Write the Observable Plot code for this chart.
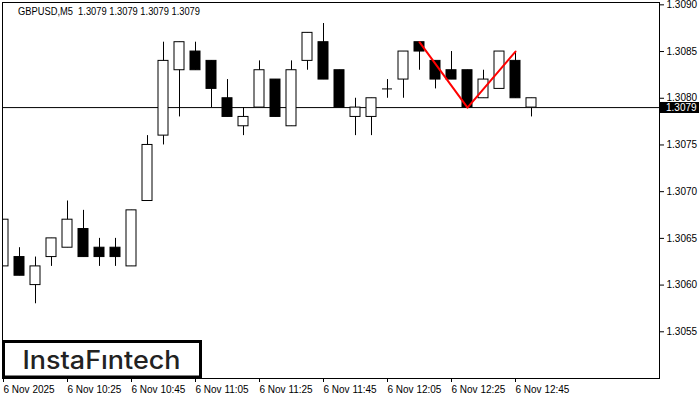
<!DOCTYPE html>
<html>
<head>
<meta charset="utf-8">
<script src="https://cdn.jsdelivr.net/npm/d3@7"></script>
<script src="https://cdn.jsdelivr.net/npm/@observablehq/plot@0.6"></script>
<style>
  html, body { margin: 0; padding: 0; background: #fff; }
  #chart { width: 700px; height: 400px; }
</style>
</head>
<body>
<div id="chart"></div>
<script>
// ---- data (M5 bars from 6 Nov 10:05 to 12:50) ----
const barIndex = d3.range(34);
const open  = [1.3062,1.3063,1.3060,1.3063,1.3064,1.3066,1.3064,1.3064,1.3062,1.3069,
               1.3076,1.3083,1.3085,1.3084,1.3080,1.3077,1.3079,1.3082,1.3077,1.3084,
               1.3086,1.3083,1.3078,1.3078,1.3081,1.3082,1.3086,1.3084,1.3083,1.3083,
               1.3080,1.3081,1.3084,1.3079];
const high  = [1.3067,1.3064,1.3063,1.3065,1.3069,1.3068,1.3065,1.3065,1.3068,1.3076,
               1.3086,1.3086,1.3086,1.3084,1.3082,1.3079,1.3084,1.3082,1.3084,1.3087,
               1.3088,1.3083,1.3080,1.3080,1.3082,1.3085,1.3086,1.3084,1.3085,1.3083,
               1.3083,1.3085,1.3085,1.3080];
const low   = [1.3062,1.3061,1.3058,1.3062,1.3064,1.3063,1.3062,1.3062,1.3062,1.3069,
               1.3075,1.3078,1.3083,1.3079,1.3078,1.3076,1.3079,1.3078,1.3077,1.3083,
               1.3082,1.3079,1.3076,1.3076,1.3080,1.3080,1.3083,1.3081,1.3082,1.3079,
               1.3080,1.3081,1.3080,1.3078];
const close = [1.3067,1.3061,1.3062,1.3065,1.3067,1.3063,1.3063,1.3063,1.3068,1.3075,
               1.3084,1.3086,1.3083,1.3081,1.3078,1.3078,1.3083,1.3078,1.3083,1.3087,
               1.3082,1.3079,1.3079,1.3080,1.3081,1.3085,1.3085,1.3082,1.3082,1.3079,
               1.3082,1.3085,1.3080,1.3080];
const xTickIdx = [0,4,8,12,16,20,24,28,32];
const xTickLabels = ["6 Nov 2025","6 Nov 10:25","6 Nov 10:45","6 Nov 11:05","6 Nov 11:25",
                     "6 Nov 11:45","6 Nov 12:05","6 Nov 12:25","6 Nov 12:45"];
const yTicks = [1.3055,1.3060,1.3065,1.3070,1.3075,1.3080,1.3085,1.3090];
const bidPrice = 1.3079;
const patternIdx = [26, 29, 32];
const patternPrice = [1.3086, 1.3079, 1.3085];
const titleText = "GBPUSD,M5  1.3079 1.3079 1.3079 1.3079";
const logoText = "InstaF\u0131ntech";

const bars = barIndex.map(i => ({i, o: open[i], h: high[i], l: low[i], c: close[i]}));
const pattern = patternIdx.map((i, k) => ({i, p: patternPrice[k]}));
const half = 0.3125;

const chart = Plot.plot({
  width: 700,
  height: 400,
  marginLeft: 2,
  marginRight: 41,
  marginTop: 2,
  marginBottom: 22,
  style: {fontFamily: "'Liberation Sans', Arial, sans-serif", fontSize: "10px", background: "#fff", color: "#000"},
  x: {type: "linear", domain: [-0.0625, 41], label: null},
  y: {domain: [1.30500, 1.309025], label: null},
  marks: [
    Plot.ruleY([bidPrice], {stroke: "#000", strokeWidth: 1}),
    Plot.ruleX(bars, {x: "i", y1: "l", y2: "h", stroke: "#000", clip: true}),
    Plot.rect(bars.filter(d => d.o !== d.c), {
      x1: d => d.i - half, x2: d => d.i + half,
      y1: d => Math.min(d.o, d.c), y2: d => Math.max(d.o, d.c),
      fill: d => d.c > d.o ? "#fff" : "#000",
      stroke: "#000", strokeWidth: 1, clip: true
    }),
    Plot.ruleY(bars.filter(d => d.o === d.c), {
      x1: d => d.i - half, x2: d => d.i + half, y: "o", stroke: "#000"
    }),
    Plot.line(pattern, {x: "i", y: "p", stroke: "#ff0000", strokeWidth: 2}),
    Plot.frame({stroke: "#000"}),
    Plot.axisY(yTicks, {anchor: "right", tickSize: 4, tickPadding: 3, label: null,
      tickFormat: d => d.toFixed(4), fontSize: 10}),
    Plot.axisX(xTickIdx, {anchor: "bottom", tickSize: 4, tickPadding: 3, label: null,
      textAnchor: "start", tickFormat: d => xTickLabels[xTickIdx.indexOf(d)], fontSize: 10})
  ]
});

const svg = d3.select(chart);
const yS = chart.scale("y");
const yb = yS.apply(bidPrice);
// bid price label
svg.append("rect").attr("x", 660).attr("y", Math.round(yb) - 5).attr("width", 39).attr("height", 11).attr("fill", "#000");
svg.append("text").attr("x", 666).attr("y", Math.round(yb) + 4).attr("text-anchor", "start")
  .attr("fill", "#fff").attr("font-size", 10).text(bidPrice.toFixed(4));
// title
svg.append("text").attr("x", 18).attr("y", 14.5).attr("fill", "#000").attr("text-anchor", "start")
  .attr("font-size", 10).attr("textLength", 182).attr("lengthAdjust", "spacingAndGlyphs")
  .style("white-space", "pre").text(titleText);
// logo
svg.append("rect").attr("x", 3.5).attr("y", 341.5).attr("width", 197).attr("height", 35.5)
  .attr("fill", "#fff").attr("stroke", "#000").attr("stroke-width", 3);
svg.append("text").attr("x", 22.5).attr("y", 368.5).attr("fill", "#222").attr("text-anchor", "start")
  .attr("font-family", "Inter, 'Noto Sans', sans-serif").attr("font-weight", 500)
  .attr("font-size", 25).attr("textLength", 158).attr("lengthAdjust", "spacingAndGlyphs")
  .text(logoText);

document.getElementById("chart").appendChild(chart);
</script>
</body>
</html>
